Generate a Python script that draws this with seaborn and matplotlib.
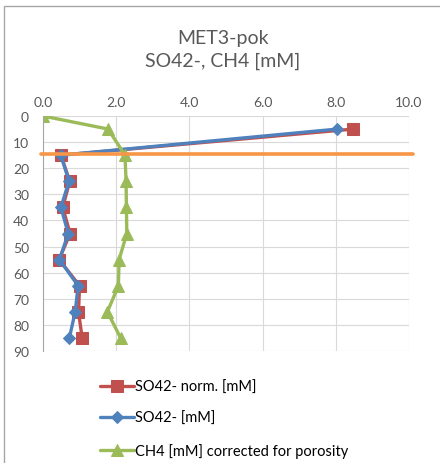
import matplotlib
matplotlib.use("Agg")
import matplotlib.pyplot as plt
import seaborn as sns
import pandas as pd
from matplotlib.patches import Rectangle

# depth [cm] and concentrations [mM]
depth_so4 = [5, 15, 25, 35, 45, 55, 65, 75, 85]
so4_norm = [8.48, 0.49, 0.73, 0.54, 0.74, 0.44, 1.0, 0.97, 1.07]
so4 = [8.04, 0.49, 0.71, 0.49, 0.69, 0.45, 0.96, 0.88, 0.72]
depth_ch4 = [0, 5, 15, 25, 35, 45, 55, 65, 75, 85]
ch4 = [0.0, 1.78, 2.24, 2.27, 2.28, 2.29, 2.08, 2.06, 1.76, 2.12]
smtz_depth = 14.5

labels = ["SO42- norm. [mM]", "SO42- [mM]", "CH4 [mM] corrected for porosity"]
title = "MET3-pok\nSO42-, CH4 [mM]"

sns.set_style("white")
plt.rcParams["font.family"] = ["Lato", "DejaVu Sans"]
txt = "#595959"

fig = plt.figure(figsize=(4.4, 4.64), dpi=100)
ax = fig.add_axes([0.0977, 0.2414, 0.8318, 0.5064])

df_norm = pd.DataFrame({"x": so4_norm, "depth": depth_so4})
df_so4 = pd.DataFrame({"x": so4, "depth": depth_so4})
df_ch4 = pd.DataFrame({"x": ch4, "depth": depth_ch4})

sns.lineplot(data=df_norm, x="x", y="depth", sort=False, estimator=None, ax=ax,
             color="#C0504D", lw=2.4, marker="s", markersize=8, markeredgecolor="#C0504D",
             label=labels[0])
sns.lineplot(data=df_so4, x="x", y="depth", sort=False, estimator=None, ax=ax,
             color="#4F81BD", lw=2.4, marker="D", markersize=6, markeredgecolor="#4F81BD",
             label=labels[1])
sns.lineplot(data=df_ch4, x="x", y="depth", sort=False, estimator=None, ax=ax,
             color="#9BBB59", lw=2.4, marker="^", markersize=8, markeredgecolor="#9BBB59",
             label=labels[2])

# SMTZ marker line
ax.plot([-0.05, 10.12], [smtz_depth, smtz_depth], color="#F79646", lw=2.6,
        clip_on=False, zorder=5)

ax.set_xlim(0, 10)
ax.set_ylim(90, 0)
ax.set_xticks(range(0, 11, 2))
ax.set_xticklabels([f"{v:.1f}" for v in range(0, 11, 2)])
ax.set_yticks(range(0, 91, 10))
ax.xaxis.tick_top()
ax.tick_params(axis="both", length=0, labelsize=10, colors=txt, pad=6)
ax.tick_params(axis="y", pad=10)
ax.set_xlabel("")
ax.set_ylabel("")
ax.grid(True, color="#D9D9D9", lw=0.8)
ax.set_axisbelow(True)
for s in ["top", "right", "bottom"]:
    ax.spines[s].set_visible(False)
ax.spines["left"].set_color("#A6A6A6")
ax.spines["left"].set_linewidth(0.8)

h, l = ax.get_legend_handles_labels()
ax.get_legend().remove()
fig.legend(h, l, loc="upper left", bbox_to_anchor=(0.215, 0.192), frameon=False,
           fontsize=10.5, labelcolor="black", handlelength=2.3, handletextpad=0.1,
           labelspacing=1.2, borderaxespad=0)

fig.text(0.507, 0.893, title, ha="center", va="center", fontsize=14,
         color=txt, linespacing=1.4)

fig.patches.append(Rectangle((4 / 440, -0.05), 1.1, 1 - 7 / 464 + 0.05,
                             transform=fig.transFigure, fill=False,
                             edgecolor="#A6A6A6", lw=1.0))

fig.savefig("out.png", dpi=100)
